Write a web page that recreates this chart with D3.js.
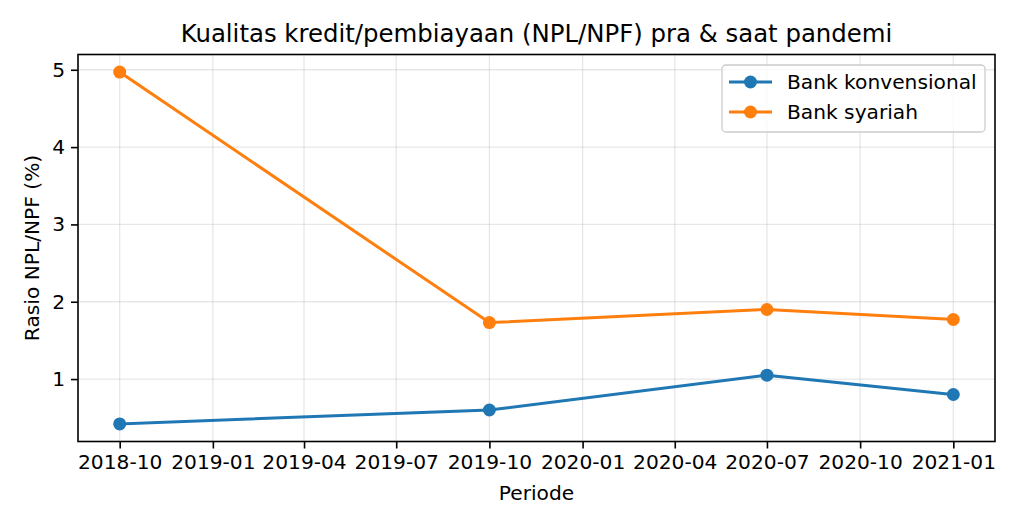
<!DOCTYPE html>
<html>
<head>
<meta charset="utf-8">
<script src="https://cdn.jsdelivr.net/npm/d3@7"></script>
<style>
  html, body { margin: 0; padding: 0; background: #fff; }
  svg { display: block; font-family: "DejaVu Sans", sans-serif; }
</style>
</head>
<body>
<svg id="chart" width="1024" height="527"></svg>
<script>
const periods = ["2018-10-01", "2019-10-01", "2020-07-01", "2021-01-01"];
const konvensional = [0.42, 0.60, 1.05, 0.80];
const syariah = [4.97, 1.73, 1.90, 1.77];
const seriesNames = ["Bank konvensional", "Bank syariah"];
const seriesColors = ["#1f77b4", "#ff7f0e"];
const yTicks = [1, 2, 3, 4, 5];
const titleText = "Kualitas kredit/pembiayaan (NPL/NPF) pra & saat pandemi";
const xLabel = "Periode";
const yLabel = "Rasio NPL/NPF (%)";

const svg = d3.select("#chart");
const m = { left: 78, right: 995, top: 54.5, bottom: 441.5 };
const FS = 20.2;

const parse = d3.utcParse("%Y-%m-%d");
const dates = periods.map(parse);
const t0 = +dates[0], t1 = +dates[dates.length - 1];
const tpad = (t1 - t0) * 0.05;
const x = d3.scaleUtc().domain([new Date(t0 - tpad), new Date(t1 + tpad)]).range([m.left, m.right]);

const all = konvensional.concat(syariah);
const ymin = d3.min(all), ymax = d3.max(all);
const ypad = (ymax - ymin) * 0.05;
const y = d3.scaleLinear().domain([ymin - ypad, ymax + ypad]).range([m.bottom, m.top]);

const xTicks = d3.utcMonth.every(3).range(new Date(Date.UTC(2018, 9, 1)), new Date(Date.UTC(2021, 1, 1)));
const fmt = d3.utcFormat("%Y-%m");

// grid
const grid = svg.append("g");
grid.selectAll(".gx").data(xTicks).enter().append("line")
  .attr("x1", d => x(d)).attr("x2", d => x(d))
  .attr("y1", m.top).attr("y2", m.bottom)
  .attr("stroke", "#b0b0b0").attr("stroke-opacity", 0.3).attr("stroke-width", 1.3);
grid.selectAll(".gy").data(yTicks).enter().append("line")
  .attr("y1", d => y(d)).attr("y2", d => y(d))
  .attr("x1", m.left).attr("x2", m.right)
  .attr("stroke", "#b0b0b0").attr("stroke-opacity", 0.3).attr("stroke-width", 1.3);

// axes
const xAxis = d3.axisBottom(x).tickValues(xTicks).tickFormat(fmt).tickSize(7).tickPadding(6);
const gx = svg.append("g").attr("transform", `translate(0,${m.bottom})`).call(xAxis);
gx.select(".domain").remove();
gx.selectAll("line").attr("stroke", "#000").attr("stroke-width", 1.6);
gx.selectAll("text").attr("font-size", FS).attr("fill", "#000").attr("font-family", "DejaVu Sans");

const yAxis = d3.axisLeft(y).tickValues(yTicks).tickFormat(d3.format("d")).tickSize(7).tickPadding(6);
const gy = svg.append("g").attr("transform", `translate(${m.left},0)`).call(yAxis);
gy.select(".domain").remove();
gy.selectAll("line").attr("stroke", "#000").attr("stroke-width", 1.6);
gy.selectAll("text").attr("font-size", FS).attr("fill", "#000").attr("font-family", "DejaVu Sans");

// lines
const data = [konvensional, syariah];
const line = d3.line().x((d, i) => x(dates[i])).y(d => y(d));
data.forEach((vals, si) => {
  svg.append("path").datum(vals)
    .attr("d", line).attr("fill", "none")
    .attr("stroke", seriesColors[si]).attr("stroke-width", 3)
    .attr("stroke-linejoin", "round").attr("stroke-linecap", "square");
  svg.selectAll(null).data(vals).enter().append("circle")
    .attr("cx", (d, i) => x(dates[i])).attr("cy", d => y(d)).attr("r", 6.5)
    .attr("fill", seriesColors[si]);
});

// frame
svg.append("rect").attr("x", m.left).attr("y", m.top)
  .attr("width", m.right - m.left).attr("height", m.bottom - m.top)
  .attr("fill", "none").attr("stroke", "#000").attr("stroke-width", 1.6);

// title & labels
const cx = (m.left + m.right) / 2;
svg.append("text").attr("x", cx).attr("y", 42).attr("text-anchor", "middle")
  .attr("font-size", 24.4).attr("fill", "#000").text(titleText);
svg.append("text").attr("x", cx).attr("y", 500).attr("text-anchor", "middle")
  .attr("font-size", FS).attr("fill", "#000").text(xLabel);
svg.append("text").attr("transform", `translate(39,${(m.top + m.bottom) / 2}) rotate(-90)`)
  .attr("text-anchor", "middle").attr("font-size", FS).attr("fill", "#000").text(yLabel);

// legend
const lg = svg.append("g");
lg.append("rect").attr("x", 722).attr("y", 65).attr("width", 263).attr("height", 67)
  .attr("rx", 4).attr("fill", "#fff").attr("fill-opacity", 0.8)
  .attr("stroke", "#cccccc").attr("stroke-width", 1.3);
seriesNames.forEach((name, i) => {
  const yy = 82 + i * 30;
  lg.append("line").attr("x1", 729).attr("x2", 772).attr("y1", yy).attr("y2", yy)
    .attr("stroke", seriesColors[i]).attr("stroke-width", 3);
  lg.append("circle").attr("cx", 750.5).attr("cy", yy).attr("r", 6.5).attr("fill", seriesColors[i]);
  lg.append("text").attr("x", 787).attr("y", yy + 7).attr("font-size", FS)
    .attr("fill", "#000").text(name);
});
</script>
</body>
</html>
